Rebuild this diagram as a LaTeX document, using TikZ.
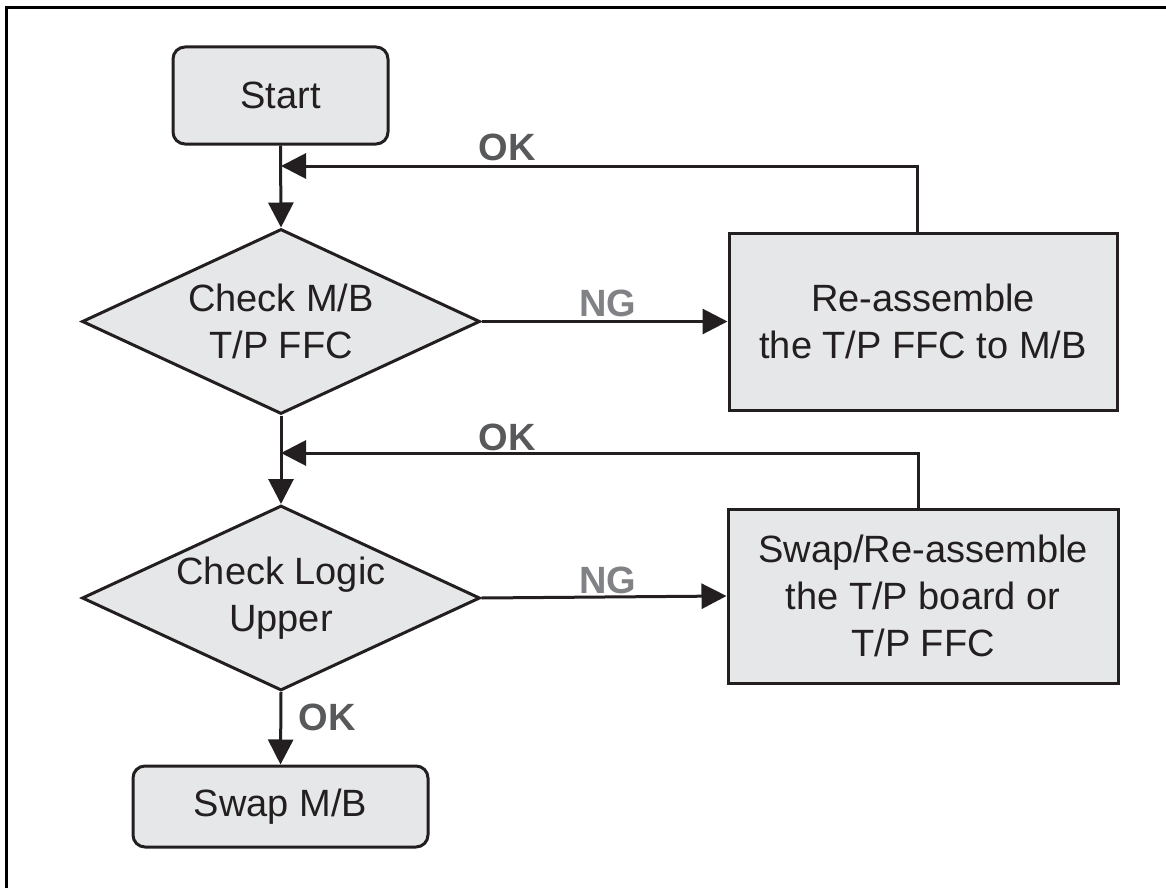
\documentclass[tikz,border=0pt]{standalone}
\usepackage{fontspec}
\setmainfont{Liberation Sans}
\usetikzlibrary{shapes.geometric,arrows.meta}
\definecolor{fillgray}{HTML}{E6E7E8}
\definecolor{linec}{HTML}{231F20}
\definecolor{okgray}{HTML}{58595B}
\definecolor{nggray}{HTML}{808285}
\tikzset{
  base/.style={draw=linec, line width=1.5pt, fill=fillgray, text=linec, inner sep=0pt, align=center,
    font=\fontsize{19}{23.3}\selectfont},
  termbox/.style={base, rectangle, rounded corners=6pt},
  actbox/.style={base, rectangle},
  decbox/.style={base, diamond},
  conn/.style={draw=linec, line width=1.5pt, -{Triangle[length=12.5pt,width=12.5pt]}},
  plain/.style={draw=linec, line width=1.5pt},
  oklab/.style={text=okgray, font=\fontsize{19}{23.3}\selectfont\bfseries},
  nglab/.style={text=nggray, font=\fontsize{19}{23.3}\selectfont\bfseries},
  txt/.style={text=linec, align=center, font=\fontsize{19}{23.3}\selectfont},
}
\begin{document}
\begin{tikzpicture}[x=0.5pt,y=-0.5pt]
\useasboundingbox (0,0) rectangle (1166,888);
% frame (top and left edges visible)
\draw[black, line width=1.5pt] (6.5,888) -- (6.5,7.5) -- (1166,7.5);

\node[termbox, minimum width=107.5pt, minimum height=48.5pt] (start) at (280.5,95.5) {Start};
\node[decbox, minimum width=199pt, minimum height=92.5pt] (d1) at (281,321.5) {};
\node[txt] (d1t) at (281,321.5) {Check M/B\\T/P FFC};
\node[actbox, minimum width=194pt, minimum height=88.5pt] (b1) at (923,321.5) {Re-assemble\\the T/P FFC to M/B};
\node[decbox, minimum width=199pt, minimum height=92.5pt] (d2) at (281,598) {};
\node[txt] (d2t) at (281,598) {Check Logic\\Upper};
\node[actbox, minimum width=195pt, minimum height=87pt] (b2) at (923,596) {Swap/Re-assemble\\the T/P board or\\T/P FFC};
\node[termbox, minimum width=147.5pt, minimum height=40.5pt] (swap) at (280.5,806.5) {Swap M/B};

\coordinate (j1) at (281,166);
\coordinate (j2) at (281,453);

\draw[conn] (start.south) -- (d1.north);
\draw[conn] ([xshift=-3pt]b1.north) |- (j1);
\draw[conn] (d1.east) -- (b1.west);
\draw[conn] (d1.south) -- (d2.north);
\draw[conn] ([xshift=-2.5pt]b2.north) |- (j2);
\draw[conn] (d2.east) -- (b2.west);
\draw[conn] (d2.south) -- (swap.north);

\node[oklab] (ok1) at (507,147) {OK};
\node[nglab] (ng1) at (608,303) {NG};
\node[oklab] (ok2) at (507,437) {OK};
\node[nglab] (ng2) at (608,580) {NG};
\node[oklab] (ok3) at (327,717) {OK};
\end{tikzpicture}
\end{document}
